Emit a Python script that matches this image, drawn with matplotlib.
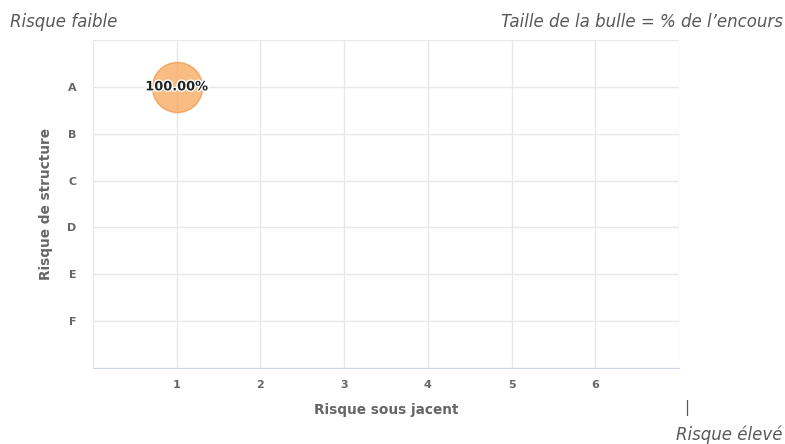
import matplotlib.pyplot as plt
import matplotlib.patheffects as pe

# Data
sous_jacent = [1]
structure = ['A']
encours_pct = [100.0]

x_ticks = [1, 2, 3, 4, 5, 6]
y_cats = ['A', 'B', 'C', 'D', 'E', 'F']

plt.rcParams['font.family'] = ['DejaVu Sans']

fig = plt.figure(figsize=(7.85, 4.44), dpi=100)
ax = fig.add_axes([93 / 785, 1 - 368 / 444, (679 - 93) / 785, (368 - 40) / 444])

y_pos = [y_cats.index(c) + 1 for c in structure]
sizes = [p * 13.0 for p in encours_pct]
ax.scatter(sous_jacent, y_pos, s=sizes, color='#f8a95f', alpha=0.78,
           edgecolors='#f39a4c', linewidths=1, zorder=3)
for xv, yv, p in zip(sous_jacent, y_pos, encours_pct):
    ax.text(xv, yv, f"{p:.2f}%", ha='center', va='center', fontsize=9.3,
            fontweight='bold', color='#222222', zorder=4,
            path_effects=[pe.withStroke(linewidth=2, foreground='white')])

ax.set_xlim(0, 7)
ax.set_ylim(7, 0)
ax.set_xticks(x_ticks)
ax.set_yticks(range(1, len(y_cats) + 1))
ax.set_yticklabels(y_cats)
ax.set_xticks(range(0, 8), minor=True)
ax.set_yticks(range(0, 8), minor=True)
ax.grid(which='minor', color='#e8e8e8', linewidth=1)
ax.grid(which='major', color='#e8e8e8', linewidth=1)
ax.set_axisbelow(True)
ax.tick_params(which='both', length=0)
ax.tick_params(axis='x', pad=9, labelsize=8, colors='#666666')
ax.tick_params(axis='y', pad=12, labelsize=8, colors='#666666')
for lbl in ax.get_xticklabels() + ax.get_yticklabels():
    lbl.set_fontweight('bold')

for side in ['top', 'right', 'left']:
    ax.spines[side].set_visible(False)
ax.spines['bottom'].set_color('#ccd6eb')

ax.set_xlabel("Risque sous jacent", fontsize=9.8, fontweight='bold',
              color='#666666', labelpad=9)
ax.set_ylabel("Risque de structure", fontsize=9.8, fontweight='bold',
              color='#666666', labelpad=10)

note_style = dict(fontsize=12, style='italic', color='#595959', va='center')
fig.text(10 / 785, 1 - 22 / 444, "Risque faible", ha='left', **note_style)
fig.text(783 / 785, 1 - 22 / 444, "Taille de la bulle = % de l\u2019encours",
         ha='right', **note_style)
fig.text(687 / 785, 1 - 408 / 444, "|", fontsize=11, color='#595959',
         ha='center', va='center')
fig.text(783 / 785, 1 - 435 / 444, "Risque élevé", ha='right', **note_style)

fig.savefig('out.png', dpi=100)
